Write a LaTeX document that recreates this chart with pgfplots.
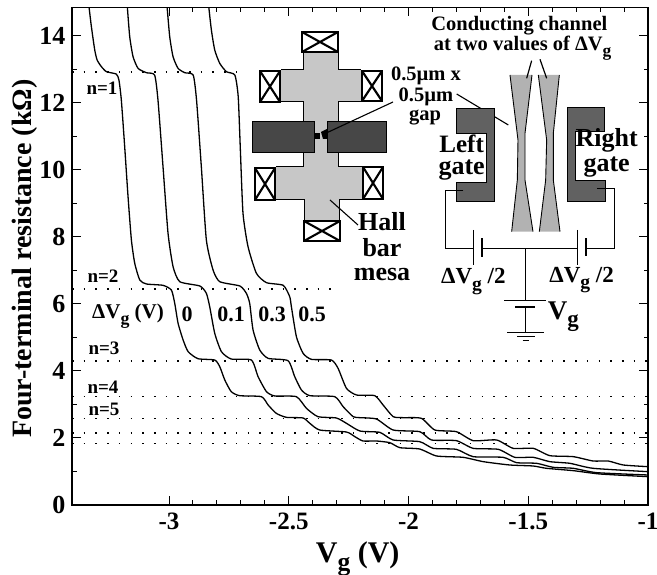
\documentclass[border=0pt]{standalone}
\usepackage{fontspec}
\setmainfont{Liberation Serif}
\usepackage{pgfplots}
\usepackage{graphicx}
\pgfplotsset{compat=1.18}
\newcommand\sub[1]{\raisebox{-0.28em}{\scalebox{0.85}{#1}}}
\newcommand\fs[1]{\fontsize{#1}{#1}\selectfont\bfseries}
\begin{document}
\begin{tikzpicture}[x=1pt,y=1pt]
\path[use as bounding box] (0,0) rectangle (657,575);
\begin{axis}[
  at={(72pt,70pt)}, anchor=south west,
  scale only axis, width=576pt, height=497.5pt,
  xmin=-3.405, xmax=-1, ymin=0, ymax=14.84,
  axis line style={line width=1.2pt},
  tick style={black,line width=0.9pt},
  tick align=inside,
  major tick length=9pt, minor tick length=4.5pt,
  xtick={-3,-2.5,-2,-1.5,-1}, xticklabels={-3,-2.5,-2,-1.5,-1},
  ytick={0,2,4,6,8,10,12,14}, yticklabels={0,2,4,6,8,10,12,14},
  minor x tick num=4, minor y tick num=1,
  xticklabel style={font=\fs{25}, yshift=-4pt},
  yticklabel style={font=\fs{26}, xshift=-3pt},
  xlabel={V\sub{g} (V)}, xlabel style={font=\fs{30}, at={(axis description cs:0.496,-0.066)}, anchor=north},
  ylabel={Four-terminal resistance (kΩ)},
  ylabel style={font=\fs{28}, at={(axis description cs:-0.071,0.495)}, anchor=base},
  clip=true,
]
% dotted quantised levels
\addplot[black,line width=1.5pt,dash pattern=on 1.6pt off 10.1pt] coordinates {(-3.405,12.91) (-2.70,12.91)};
\addplot[black,line width=1.5pt,dash pattern=on 1.6pt off 10.1pt] coordinates {(-3.405,6.45) (-2.32,6.45)};
\addplot[black,line width=1.5pt,dash pattern=on 1.6pt off 10.1pt] coordinates {(-3.405,4.30) (-1,4.30)};
\addplot[black,line width=1.5pt,dash pattern=on 1.6pt off 10.1pt] coordinates {(-3.405,3.23) (-1,3.23)};
\addplot[black,line width=1.5pt,dash pattern=on 1.6pt off 10.1pt] coordinates {(-3.405,2.58) (-1,2.58)};
\addplot[black,line width=1.5pt,dash pattern=on 1.6pt off 10.1pt] coordinates {(-3.405,2.15) (-1,2.15)};
\addplot[black,line width=1.5pt,dash pattern=on 1.6pt off 10.1pt] coordinates {(-3.405,1.84) (-1,1.84)};
% dVg = 0
\addplot[black,line width=1.3pt,smooth,tension=0.35] coordinates {
(-3.334,14.86)(-3.324,14.266)(-3.310,13.570)(-3.300,13.272)(-3.282,13.073)(-3.261,12.924)(-3.220,12.854)(-3.209,12.675)(-3.199,12.079)(-3.185,10.687)(-3.171,9.196)(-3.157,7.904)(-3.143,7.208)(-3.122,6.711)(-3.094,6.592)(-3.025,6.552)(-2.990,6.412)(-2.976,6.014)(-2.962,5.418)(-2.941,4.921)(-2.920,4.573)(-2.879,4.364)(-2.809,4.324)(-2.788,4.125)(-2.767,3.728)(-2.740,3.380)(-2.705,3.261)(-2.614,3.231)(-2.586,2.982)(-2.552,2.734)(-2.510,2.615)(-2.440,2.595)(-2.412,2.436)(-2.371,2.237)(-2.259,2.177)(-2.224,2.038)(-2.190,1.909)(-2.134,1.909)(-2.078,1.859)(-2.036,1.710)(-1.953,1.670)(-1.883,1.462)(-1.772,1.422)(-1.688,1.293)(-1.577,1.193)(-1.479,1.163)(-1.424,1.094)(-1.312,1.024)(-1.201,0.925)(-1.000,0.845)};
% dVg = 0.1
\addplot[black,line width=1.3pt,smooth,tension=0.35] coordinates {
(-3.174,14.862)(-3.164,13.968)(-3.150,13.371)(-3.129,13.023)(-3.094,12.894)(-3.060,12.824)(-3.046,12.079)(-3.025,10.091)(-3.004,8.103)(-2.983,7.109)(-2.955,6.661)(-2.871,6.532)(-2.844,6.314)(-2.830,5.915)(-2.809,5.120)(-2.781,4.573)(-2.740,4.354)(-2.656,4.324)(-2.628,3.827)(-2.593,3.380)(-2.558,3.251)(-2.468,3.231)(-2.426,2.883)(-2.378,2.635)(-2.301,2.595)(-2.259,2.436)(-2.203,2.207)(-2.120,2.167)(-2.064,1.939)(-1.953,1.889)(-1.897,1.690)(-1.800,1.660)(-1.730,1.442)(-1.605,1.422)(-1.549,1.263)(-1.465,1.243)(-1.396,1.124)(-1.312,1.094)(-1.215,0.965)(-1.000,0.895)};
% dVg = 0.3
\addplot[black,line width=1.3pt,smooth,tension=0.35] coordinates {
(-3.008,14.862)(-2.997,13.968)(-2.983,13.371)(-2.962,13.023)(-2.934,12.894)(-2.899,12.824)(-2.885,12.079)(-2.865,10.091)(-2.844,7.904)(-2.816,7.009)(-2.788,6.661)(-2.704,6.532)(-2.677,6.314)(-2.663,6.014)(-2.649,5.219)(-2.621,4.622)(-2.586,4.374)(-2.503,4.304)(-2.475,3.827)(-2.447,3.430)(-2.412,3.261)(-2.308,3.231)(-2.273,2.933)(-2.231,2.634)(-2.203,2.605)(-2.134,2.565)(-2.064,2.237)(-1.953,2.187)(-1.904,1.939)(-1.800,1.919)(-1.730,1.690)(-1.625,1.660)(-1.556,1.422)(-1.479,1.422)(-1.410,1.293)(-1.326,1.243)(-1.229,1.094)(-1.000,0.994)};
% dVg = 0.5
\addplot[black,line width=1.3pt,smooth,tension=0.35] coordinates {
(-2.834,14.862)(-2.823,14.166)(-2.809,13.570)(-2.788,13.172)(-2.760,12.924)(-2.725,12.824)(-2.711,12.178)(-2.702,10.588)(-2.691,8.699)(-2.670,7.705)(-2.635,6.910)(-2.593,6.632)(-2.523,6.552)(-2.496,6.214)(-2.489,5.915)(-2.468,5.020)(-2.440,4.523)(-2.405,4.344)(-2.322,4.324)(-2.294,4.076)(-2.259,3.479)(-2.217,3.281)(-2.141,3.261)(-2.106,2.982)(-2.064,2.635)(-2.022,2.605)(-1.946,2.585)(-1.890,2.237)(-1.800,2.187)(-1.730,1.919)(-1.632,1.939)(-1.563,1.690)(-1.479,1.690)(-1.410,1.472)(-1.312,1.442)(-1.229,1.312)(-1.166,1.312)(-1.103,1.193)(-1.000,1.143)};
\end{axis}
% ---- pixel scope: labels and Hall-bar inset
\begin{scope}[shift={(0,575)},x=1pt,y=-1pt]
\tikzset{lab/.style={font=\fs{19},inner sep=0pt,anchor=center}}
\node[lab] at (102,88) {n=1};
\node[lab] at (103,276) {n=2};
\node[lab] at (104,348) {n=3};
\node[lab] at (103,387) {n=4};
\node[lab] at (104,409) {n=5};
\node[lab,font=\fs{21}] at (128,316) {ΔV\sub{g} (V)};
\node[lab,font=\fs{22}] at (187,314) {0};
\node[lab,font=\fs{22}] at (231,314) {0.1};
\node[lab,font=\fs{22}] at (272,314) {0.3};
\node[lab,font=\fs{22}] at (312,314) {0.5};
% mesa
\fill[black!22] (303,53) -- (338,53) -- (338,70) -- (361,70) -- (361,102) -- (338,102) -- (338,167) -- (362,167) -- (362,200) -- (339,200) -- (339,220) -- (304,220) -- (304,200) -- (276,200) -- (276,167) -- (303,167) -- (303,102) -- (281,102) -- (281,70) -- (303,70) -- cycle;
\draw[line width=1pt] (303,53) -- (303,70) -- (281,70) (281,102) -- (303,102) -- (303,121) (303,152) -- (303,167) -- (276,167) (276,200) -- (304,200) -- (304,220);
\draw[line width=1pt] (338,53) -- (338,70) -- (361,70) (361,102) -- (338,102) -- (338,121) (338,152) -- (338,167) -- (362,167) (362,200) -- (339,200) -- (339,220);
% gates
\fill[black!72,draw=black,line width=0.8pt] (252,121) rectangle (314,152);
\fill[black!72,draw=black,line width=0.8pt] (327,121) rectangle (386,152);
\fill[black] (314,133) rectangle (320,139);
\fill[black] (321,132) -- (327,129) -- (327,139) -- (323,139) -- cycle;
% contacts
\foreach \xa/\ya/\xb/\yb in {302/32/338/52, 304/221/340/241, 260/71/280/102, 255/168/275/200, 362/71/382/101, 363/167/383/199}{
  \fill[white] (\xa,\ya) rectangle (\xb,\yb);
  \draw[line width=2.6pt] (\xa,\ya) rectangle (\xb,\yb);
  \draw[line width=2.1pt] (\xa,\ya) -- (\xb,\yb) (\xa,\yb) -- (\xb,\ya);
}
% leaders
\draw[line width=1.1pt] (393,102) -- (322,135);
\draw[line width=1.1pt] (330,200) -- (358,225);
\node[lab,font=\fs{20.5}] at (426,76) {0.5\textmu m x};
\node[lab,font=\fs{20.5}] at (426,97) {0.5\textmu m};
\node[lab,font=\fs{20.5}] at (425,118) {gap};
\node[lab,font=\fs{26}] at (382,222) {Hall};
\node[lab,font=\fs{26}] at (382,248) {bar};
\node[lab,font=\fs{26}] at (382,275) {mesa};
\end{scope}
% ---- channel inset, coordinates at 3 units per pixel, origin (330,0)
\begin{scope}[shift={(330,575)},x=0.33333pt,y=-0.33333pt]
\tikzset{lab/.style={font=\fs{20.5},inner sep=0pt,anchor=center}}
\node[lab] at (568,78) {Conducting channel};
\node[lab] at (578,145) {at two values of ΔV\sub{g}};
% channels
\fill[black!30] (540,225) -- (606,225) -- (585,400) -- (585,540) -- (609,695) -- (545,695) -- (562,540) -- (564,420) -- cycle;
\fill[black!30] (625,225) -- (688,225) -- (670,400) -- (670,540) -- (690,695) -- (628,695) -- (647,540) -- (650,420) -- cycle;
\draw[line width=0.9pt] (540,225) -- (564,420) -- (562,540) -- (545,695);
\draw[line width=0.9pt] (606,225) -- (585,400) -- (585,540) -- (609,695);
\draw[line width=0.9pt] (625,225) -- (650,420) -- (647,540) -- (628,695);
\draw[line width=0.9pt] (688,225) -- (670,400) -- (670,540) -- (690,695);
\draw[line width=1.2pt] (605,182) -- (590,235);
\draw[line width=1.2pt] (630,178) -- (650,235);
\draw[line width=1.1pt] (380,282) -- (535,375);
% gates
\fill[black!62,draw=black,line width=0.5pt] (378,325) -- (492,325) -- (492,605) -- (380,605) -- (380,548) -- (470,548) -- (470,400) -- (378,400) -- cycle;
\fill[black!62,draw=black,line width=0.5pt] (712,323) -- (822,323) -- (822,395) -- (735,395) -- (735,542) -- (825,542) -- (825,605) -- (712,605) -- cycle;
\node[lab,font=\fs{25}] at (395,432) {Left};
\node[lab,font=\fs{26}] at (395,510) {gate};
\node[lab,font=\fs{26}] at (830,422) {Right};
\node[lab,font=\fs{26}] at (830,500) {gate};
% circuit
\draw[line width=0.9pt] (400,570) -- (345,570) -- (345,745) -- (430,745);
\draw[line width=0.9pt] (455,745) -- (742,745);
\draw[line width=0.9pt] (768,745) -- (852,745) -- (852,565) -- (800,565);
\draw[line width=0.9pt] (430,690) -- (430,795);
\draw[line width=2.2pt] (455,715) -- (455,770);
\draw[line width=0.9pt] (742,690) -- (742,795);
\draw[line width=2.2pt] (768,715) -- (768,768);
\draw[line width=0.9pt] (587,745) -- (587,900);
\draw[line width=0.9pt] (523,900) -- (648,900);
\draw[line width=2.2pt] (555,920) -- (615,920);
\draw[line width=0.9pt] (587,920) -- (587,998);
\draw[line width=0.9pt] (532,998) -- (642,998);
\draw[line width=0.9pt] (562,1010) -- (615,1010);
\draw[line width=0.9pt] (578,1022) -- (597,1022);
\node[lab,font=\fs{23}] at (430,845) {ΔV\sub{g} /2};
\node[lab,font=\fs{23}] at (755,840) {ΔV\sub{g} /2};
\node[lab,font=\fs{27}] at (700,950) {V\sub{g}};
\end{scope}
\end{tikzpicture}
\end{document}
